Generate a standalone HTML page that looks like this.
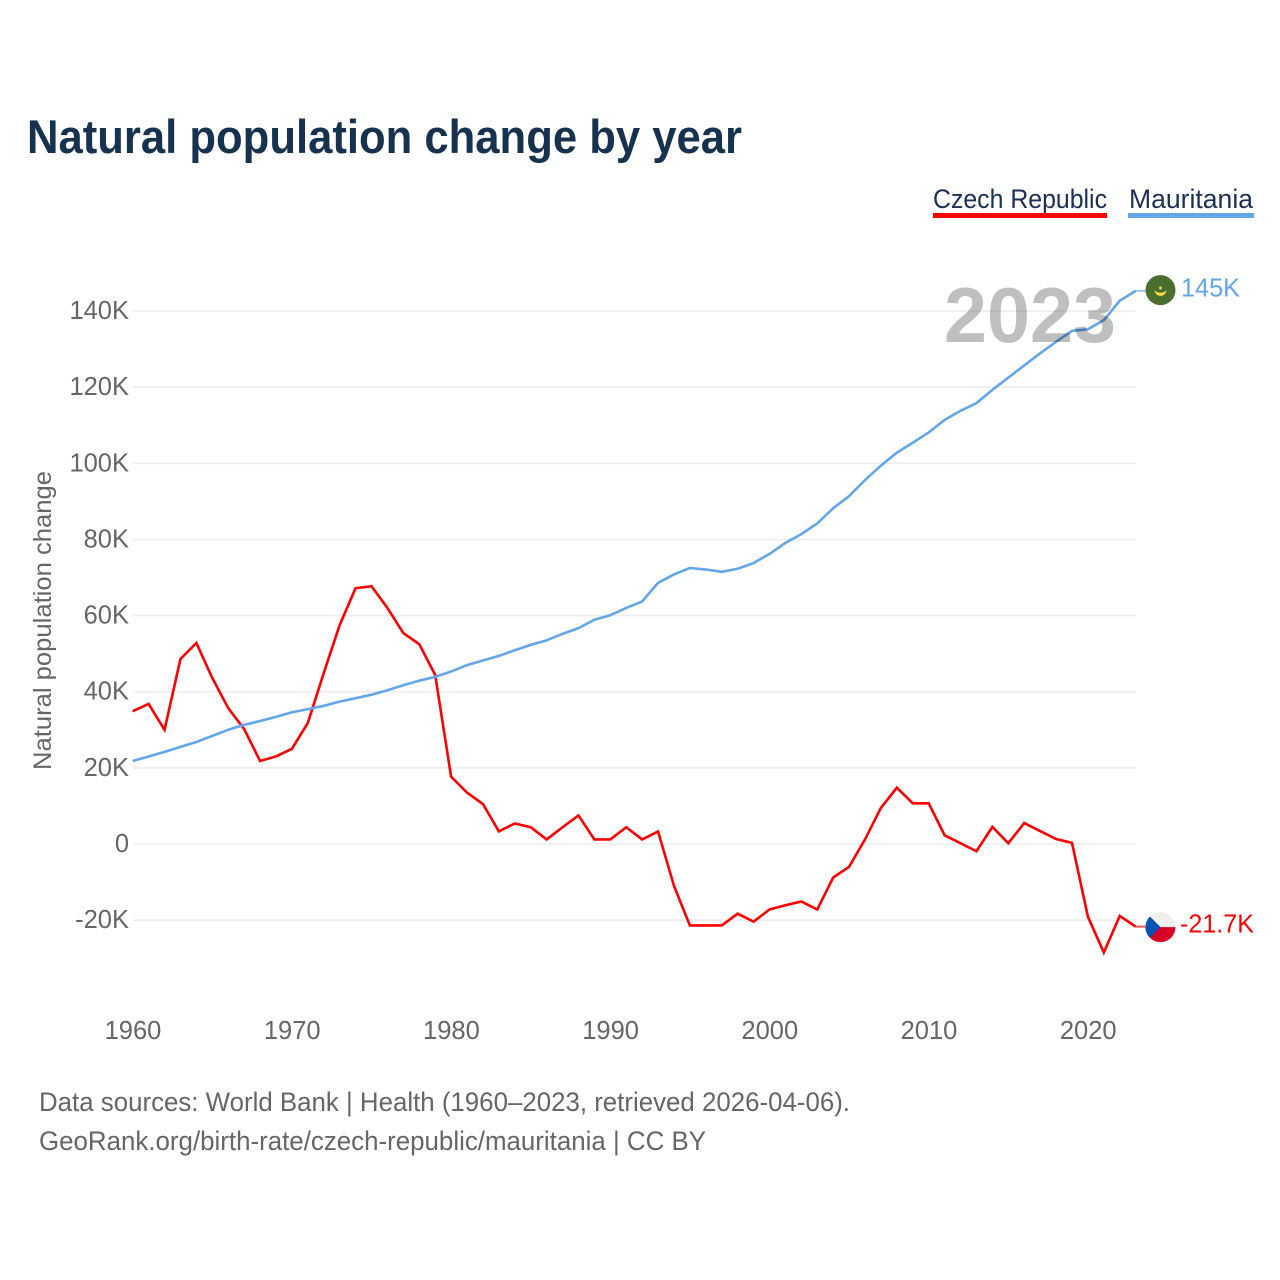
<!DOCTYPE html>
<html lang="en">
<head>
<meta charset="utf-8">
<title>Natural population change by year</title>
<style>
html,body{margin:0;padding:0;background:#fff;width:1280px;height:1280px;overflow:hidden}
svg{display:block;font-family:"Liberation Sans",sans-serif}
</style>
</head>
<body>
<svg id="chart" xmlns="http://www.w3.org/2000/svg" width="1280" height="1280" viewBox="0 0 1280 1280">
  <rect width="1280" height="1280" fill="#fff"/>
  <text x="27" y="153" font-size="47" font-weight="700" fill="#17324f" textLength="715" lengthAdjust="spacingAndGlyphs">Natural population change by year</text>
  <text x="933" y="208" font-size="27" fill="#1a3055" textLength="174" lengthAdjust="spacingAndGlyphs">Czech Republic</text>
  <rect x="933" y="213" width="174" height="5" fill="#ff0000"/>
  <text x="1129" y="208" font-size="27" fill="#1a3055" textLength="124" lengthAdjust="spacingAndGlyphs">Mauritania</text>
  <rect x="1128" y="213" width="126" height="5" fill="#64a6ea"/>
  <text transform="translate(51,770) rotate(-90)" font-size="25" fill="#666" textLength="299" lengthAdjust="spacingAndGlyphs">Natural population change</text>
  <g id="grid"></g>
  <g id="yticks"></g>
  <g id="xticks"></g>
  <g id="series"></g>
  <text x="1030" y="342" text-anchor="middle" font-size="78" font-weight="700" fill="#000" fill-opacity="0.25" textLength="172" lengthAdjust="spacingAndGlyphs">2023</text>
  <g id="ends"></g>
  <text x="39" y="1111" font-size="27" fill="#666" textLength="811" lengthAdjust="spacingAndGlyphs">Data sources: World Bank | Health (1960–2023, retrieved 2026-04-06).</text>
  <text x="39" y="1150" font-size="27" fill="#666" textLength="667" lengthAdjust="spacingAndGlyphs">GeoRank.org/birth-rate/czech-republic/mauritania | CC BY</text>
</svg>
<script>
const firstYear = 1960;
const czechValues = [34.9,36.8,30,48.6,52.8,43.6,35.7,30.2,21.8,23,25,31.8,44.9,57.5,67.2,67.7,62,55.4,52.5,44.4,17.7,13.5,10.5,3.3,5.4,4.4,1.2,4.4,7.5,1.2,1.2,4.4,1.2,3.3,-11,-21.4,-21.4,-21.4,-18.3,-20.4,-17.2,-16.1,-15.1,-17.2,-8.8,-6,1.2,9.5,14.8,10.7,10.7,2.3,0.2,-1.9,4.5,0.2,5.5,3.4,1.3,0.3,-19.1,-28.5,-18.9,-21.7];
const mauritaniaValues = [21.8,23,24.2,25.5,26.8,28.4,30,31.3,32.3,33.4,34.6,35.4,36.3,37.4,38.3,39.2,40.4,41.7,42.9,43.9,45.3,47,48.2,49.4,50.9,52.3,53.5,55.2,56.7,58.9,60.1,62,63.7,68.6,70.8,72.5,72.1,71.5,72.3,73.8,76.2,79.1,81.4,84.2,88.2,91.4,95.6,99.4,102.8,105.4,108.1,111.4,113.8,115.8,119.3,122.5,125.7,128.9,131.9,134.8,135.2,137.6,142.7,145.3];
const yTickValues = [140,120,100,80,60,40,20,0,-20];
const yTickLabels = ["140K","120K","100K","80K","60K","40K","20K","0","-20K"];
const xTickYears = [1960,1970,1980,1990,2000,2010,2020];
const czechEndLabel = "-21.7K";
const mauritaniaEndLabel = "145K";

const NS = "http://www.w3.org/2000/svg";
function xScale(year){ return 132.7 + (year - 1960) * 15.92; }
function yScale(v){ return 844 - v * 3.807; }
function make(tag, attrs, parent){
  const el = document.createElementNS(NS, tag);
  for (const k in attrs) el.setAttribute(k, attrs[k]);
  parent.appendChild(el);
  return el;
}
const grid = document.getElementById("grid");
const yticks = document.getElementById("yticks");
const xticks = document.getElementById("xticks");
const series = document.getElementById("series");
const ends = document.getElementById("ends");

yTickValues.forEach(function(v, i){
  const line = make("line", {x1:133, x2:1136, y1:yScale(v), y2:yScale(v), stroke:"#eeeeee", "stroke-width":1.6}, grid);
  
  
  const t = make("text", {x:129, y:yScale(v)+8, "text-anchor":"end", "font-size":25.5, fill:"#666"}, yticks);
  t.textContent = yTickLabels[i];
  
  
});
xTickYears.forEach(function(y){
  const t = make("text", {x:xScale(y)+0.3, y:1039, "text-anchor":"middle", "font-size":25.5, fill:"#666"}, xticks);
  t.textContent = String(y);
  
  
});
function pathFor(values){
  return values.map(function(v, i){
    return (i ? "L" : "M") + xScale(firstYear + i).toFixed(2) + " " + yScale(v).toFixed(2);
  }).join(" ");
}
const czechLine = make("path", {d:pathFor(czechValues), fill:"none", stroke:"#ff0000", "stroke-width":2.6, "stroke-linejoin":"miter"}, series);


const mauritaniaLine = make("path", {d:pathFor(mauritaniaValues), fill:"none", stroke:"#64a6ea", "stroke-width":2.6, "stroke-linejoin":"round"}, series);



const lastX = xScale(firstYear + czechValues.length - 1);
const flagX = 1160.5;
const czechY = yScale(czechValues[czechValues.length - 1]);
const mauritaniaY = yScale(mauritaniaValues[mauritaniaValues.length - 1]);

const czechStub = make("line", {x1:lastX, x2:1146, y1:czechY, y2:czechY, stroke:"#ff0000", "stroke-width":2, "stroke-opacity":0.65}, ends);


const mauritaniaStub = make("line", {x1:lastX, x2:1146, y1:mauritaniaY, y2:mauritaniaY, stroke:"#64a6ea", "stroke-width":2, "stroke-opacity":0.65}, ends);



/* Czech flag */
const cz = make("g", {transform:"translate(" + flagX + "," + (czechY + 0.5) + ")"}, ends);


make("circle", {r:15, fill:"#f0f0f0"}, cz);
make("path", {d:"M-15 0 H15 A15 15 0 0 1 -15 0 Z", fill:"#d80027"}, cz);
make("path", {d:"M-10.6 -10.6 L0 0 L-10.6 10.6 A15 15 0 0 1 -10.6 -10.6 Z", fill:"#0052b4"}, cz);

/* Mauritania flag */
const mr = make("g", {transform:"translate(" + flagX + "," + (mauritaniaY - 0.7) + ")"}, ends);


make("circle", {r:15, fill:"#496e2d"}, mr);
make("path", {d:"M-5.5 1 A5.6 5.6 0 0 0 5.5 1 A6.5 4 0 0 1 -5.5 1 Z", fill:"#ffda44", stroke:"#ffda44", "stroke-width":0.6}, mr);
make("circle", {cx:0, cy:-2.2, r:1.4, fill:"#ffda44"}, mr);

const czechLabel = make("text", {x:1180, y:czechY + 6, "font-size":25.5, fill:"#ff0000", textLength:74, lengthAdjust:"spacingAndGlyphs"}, ends);
czechLabel.textContent = czechEndLabel;


const mauritaniaLabel = make("text", {x:1181, y:mauritaniaY + 5.5, "font-size":25.5, fill:"#64a6ea", textLength:59, lengthAdjust:"spacingAndGlyphs"}, ends);
mauritaniaLabel.textContent = mauritaniaEndLabel;


</script>
</body>
</html>
